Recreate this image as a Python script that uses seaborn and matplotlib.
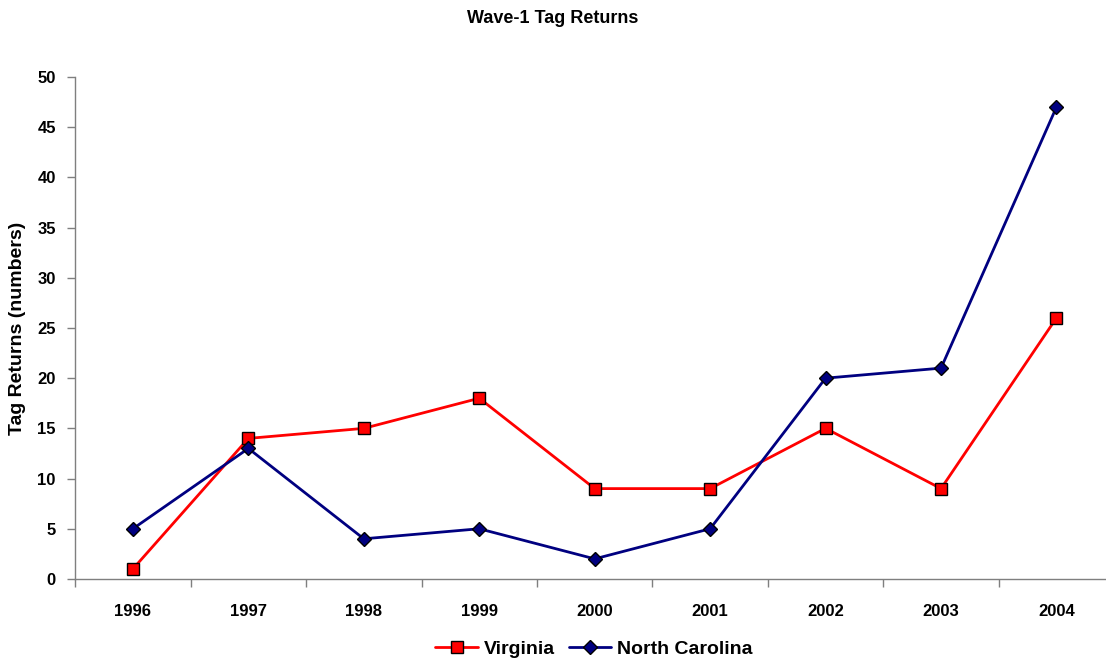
import matplotlib
matplotlib.use("Agg")
import matplotlib.pyplot as plt
import seaborn as sns
import pandas as pd
import numpy as np

years = ["1996", "1997", "1998", "1999", "2000", "2001", "2002", "2003", "2004"]
virginia = [1, 14, 15, 18, 9, 9, 15, 9, 26]
north_carolina = [5, 13, 4, 5, 2, 5, 20, 21, 47]

df = pd.DataFrame({
    "year": years * 2,
    "returns": virginia + north_carolina,
    "state": ["Virginia"] * len(years) + ["North Carolina"] * len(years),
})

sns.set_style("white")
plt.rcParams["font.family"] = ["Liberation Sans", "DejaVu Sans"]
plt.rcParams["text.color"] = "black"
plt.rcParams["axes.labelcolor"] = "black"
plt.rcParams["xtick.color"] = "black"
plt.rcParams["ytick.color"] = "black"

axis_grey = "#7f7f7f"

fig = plt.figure(figsize=(11.06, 6.67), dpi=100)
# the plot area runs a little past the right edge, as in the original
ax = fig.add_axes([0.068, 0.132, 0.9394, 0.7526])

sns.lineplot(data=df, x="year", y="returns", hue="state", style="state",
             palette={"Virginia": "#ff0000", "North Carolina": "#000080"},
             markers={"Virginia": "s", "North Carolina": "D"},
             dashes=False, linewidth=2, markersize=9, markeredgecolor="black",
             markeredgewidth=1, ax=ax)
# diamond a bit smaller than the square
for line in ax.get_lines():
    if line.get_marker() == "D":
        line.set_markersize(7)

ax.set_xlim(-0.5, len(years) - 0.5)
ax.set_ylim(0, 50)
ax.set_yticks(np.arange(0, 51, 5))
ax.set_xticks(range(len(years)))
ax.set_xticklabels(years, fontweight="bold", fontsize=12)
ax.set_xticks(np.arange(-0.5, len(years), 1), minor=True)
ax.tick_params(axis="x", which="major", bottom=False, length=0, pad=18)
ax.tick_params(axis="x", which="minor", bottom=True, length=6, width=1,
               color=axis_grey, direction="out")
ax.tick_params(axis="y", left=True, length=6, width=1, color=axis_grey,
               direction="out", labelsize=12, pad=8)
for lbl in ax.get_yticklabels():
    lbl.set_fontweight("bold")

for side in ["top", "right"]:
    ax.spines[side].set_visible(False)
for side in ["left", "bottom"]:
    ax.spines[side].set_color(axis_grey)
    ax.spines[side].set_linewidth(1)

ax.set_xlabel("")
ax.set_ylabel("Tag Returns (numbers)", fontweight="bold", fontsize=14, labelpad=8)
fig.suptitle("Wave-1 Tag Returns", fontweight="bold", fontsize=13, y=0.985)

handles, labels = ax.get_legend_handles_labels()
ax.get_legend().remove()
fig.legend(handles, labels, loc="center", bbox_to_anchor=(0.537, 0.027),
           ncol=2, frameon=False, prop={"weight": "bold", "size": 14},
           handlelength=2.2, handletextpad=0.3, columnspacing=0.7)

fig.savefig("out.png", dpi=100)
